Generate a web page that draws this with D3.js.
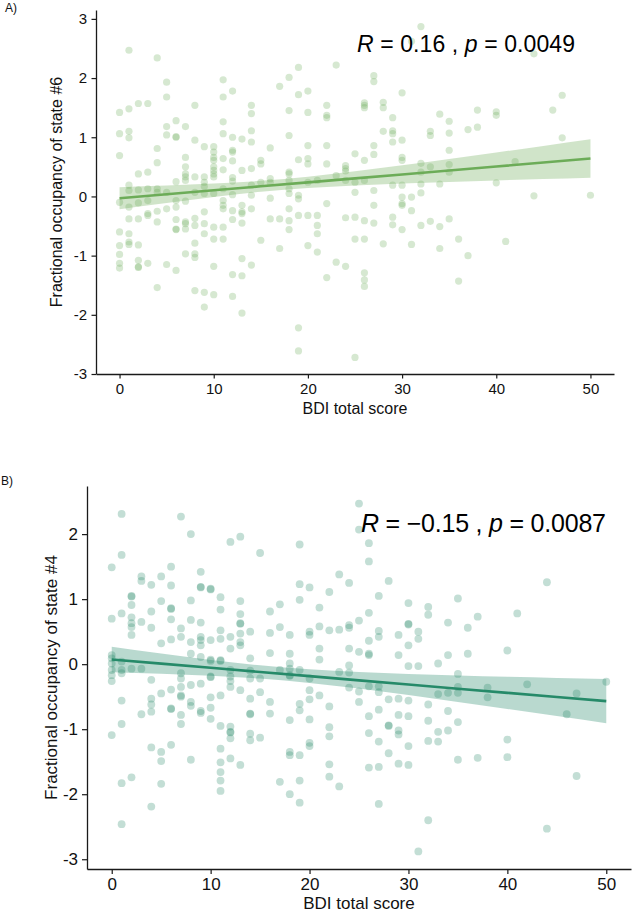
<!DOCTYPE html>
<html><head><meta charset="utf-8">
<script src="https://cdn.jsdelivr.net/npm/d3@7"></script>
<style>
html,body{margin:0;padding:0;background:#fff;}
svg{display:block;font-family:"Liberation Sans",Arial,Helvetica,sans-serif;}
</style></head>
<body>
<script>
// ---------- Panel A data (BDI score -> values at that score) ----------
const topCategories = [0,1,2,3,4,5,6,7,8,9,10,11,12,13,14,15,16,17,18,19,20,21,22,23,24,25,26,27,28,29,30,31,32,33,34,35,36,37,38,40,41,42,44,46,47,50];
const topValues = [
 [1.42,1.06,0.69,-0.10,-0.60,-0.83,-0.98,-1.13,-1.21],
 [2.47,1.48,1.10,0.99,0.19,0.10,-0.18,-0.38,-0.63,-0.77,-0.81],
 [1.57,0.38,0.11,-0.11,-0.38,-0.82,-1.08,-1.19,-1.20],
 [1.57,0.41,0.13,-0.07,-0.29,-0.32,-1.13],
 [2.34,0.81,0.57,0.13,0.07,-0.25,-0.43,-1.54],
 [1.93,1.68,1.18,1.04,0.07,-0.21,-1.15],
 [1.28,1.01,1.00,0.25,-0.07,-0.18,-0.39,-0.55,-0.56,-1.25],
 [1.18,0.66,0.50,0.38,0.33,0.27,-0.08,-0.43,-0.46,-0.55,-0.97],
 [1.54,0.95,0.33,0.07,-0.37,-0.49,-0.79,-0.97,-1.03,-1.59],
 [0.84,0.33,0.24,0.17,0.05,-0.26,-0.46,-0.63,-1.62,-1.87],
 [0.84,0.75,0.66,0.61,0.50,0.44,0.38,0.33,0.05,-0.52,-0.72,-1.18,-1.66],
 [1.97,1.68,1.26,1.06,0.64,0.45,0.13,-0.07,-0.15,-0.21,-0.52,-0.72],
 [1.78,1.00,0.78,0.75,0.60,0.32,0.26,0.03,-0.24,-0.39,-1.32,-1.69],
 [0.97,0.44,-0.15,-0.26,-0.29,-0.45,-1.05,-1.34,-1.97],
 [1.54,1.40,1.11,0.92,0.47,0.19,0.02,-0.21,-1.16],
 [0.61,0.55,0.24,-0.74],
 [0.82,0.30,0.24,-0.03,-0.38],
 [1.86,-0.38,-0.88],
 [2.01,1.45,1.03,0.41,0.38,0.27,0.13,0.05,-0.21,-0.41,-0.56],
 [2.18,1.72,0.62,0.02,-0.04,-0.32,-2.22,-2.61],
 [1.78,1.42,0.86,0.64,0.55,0.24,-0.32,-0.83],
 [0.27,-0.32,-0.49,-0.63,-0.94],
 [1.54,1.37,1.33,0.86,0.55,-0.12,-1.37],
 [2.22,0.35,-1.11],
 [0.52,0.47,0.43,0.27,-0.36,-1.18],
 [0.72,0.24,0.07,-0.35,-0.72,-2.72],
 [1.58,1.54,1.50,0.61,0.27,-0.41,-0.72,-1.29,-1.41,-1.52],
 [2.04,1.94,0.86,0.71,0.10,-0.15,-0.45],
 [1.59,1.50,1.10,-0.80],
 [1.33,1.11,1.06,0.92,0.19,-0.35,-0.48],
 [1.75,0.95,0.66,0.61,0.19,-0.01,-0.12,-0.15,-0.56],
 [2.62,-0.01,-0.24,-0.81],
 [2.87,0.56,0.41,0.21,0.06,-0.49],
 [1.10,1.03,0.50,-0.42],
 [1.39,0.21,-0.51,-0.88],
 [1.27,1.07,0.78,0.54,0.41,-0.38],
 [-0.72,-1.43],
 [1.13,-1.00],
 [1.46,1.17],
 [1.43,1.37,0.23],
 [-0.76],
 [0.59],
 [2.41,0.01],
 [1.46],
 [1.71,0.99],
 [0.02]
];
const fitX = [0,5,10,15,20,25,30,35,40,45,50];
const topFit = [-0.03,0.037,0.104,0.171,0.238,0.305,0.372,0.439,0.506,0.573,0.64];
const topHi  = [0.155,0.183,0.217,0.264,0.334,0.424,0.525,0.632,0.742,0.853,0.965];
const topLo  = [-0.215,-0.109,-0.009,0.078,0.142,0.186,0.219,0.246,0.270,0.293,0.315];

// ---------- Panel B data ----------
const botCategories = [0,1,2,3,4,5,6,7,8,9,10,11,12,13,14,15,16,17,18,19,20,21,22,23,24,25,26,27,28,29,30,31,32,33,34,35,36,37,38,40,41,42,44,46,47,50];
const botValues = [
 [1.49,0.70,0.14,0.09,0.01,-0.09,-0.17,-0.26,-1.09],
 [2.31,1.68,0.78,0.04,-0.09,-0.14,-0.56,-0.92,-1.83,-2.46],
 [1.05,1.04,0.91,0.72,0.63,0.57,0.45,-0.07,-1.74],
 [1.35,1.28,0.65,-0.07,-0.77],
 [1.22,0.81,0.56,-0.24,-0.53,-0.62,-0.73,-1.28,-2.19],
 [1.35,0.97,0.32,-0.45,-1.35,-1.49,-1.84],
 [1.50,1.21,0.86,0.85,0.69,0.38,-0.39,-0.68,-0.69,-1.24],
 [2.27,0.55,0.42,-0.14,-0.22,-0.35,-0.48,-0.50,-0.78,-0.92],
 [2.00,0.98,0.68,0.34,0.16,-0.32,-0.58,-0.64,-1.47],
 [1.42,1.19,1.18,0.64,0.42,0.37,0.29,0.11,-0.30,-0.72,-0.75],
 [1.16,1.15,0.37,0.07,0.05,-0.19,-0.20,-0.51,-0.67,-0.84],
 [1.03,0.84,0.52,0.39,0.06,0.05,-0.48,-0.95,-1.30,-1.51,-1.66,-1.79,-1.95],
 [1.88,0.42,0.24,-0.09,-0.19,-0.26,-0.35,-0.96,-1.04,-1.05,-1.14,-1.45],
 [1.96,0.97,0.77,0.63,0.62,0.47,0.34,0.29,-0.40,-1.55],
 [0.50,0.09,-0.10,-0.22,-0.53,-0.76,-0.77,-1.07,-1.17],
 [1.71,-0.22,-0.43,-1.13],
 [0.81,0.48,0.17,-0.58,-0.76],
 [0.92,0.57,-0.09,-1.81],
 [0.45,0.16,0.01,-0.07,-0.17,-0.18,-0.86,-1.35,-1.40,-2.00],
 [1.84,1.23,0.99,-0.09,-0.61,-0.71,-1.40,-1.79,-2.13],
 [1.18,0.50,0.45,-0.22,-0.40,-0.54,-0.85,-1.21,-1.26],
 [0.87,0.58,0.24,0.07,-0.48],
 [1.11,0.52,-0.65,-0.97,-1.11,-1.54,-1.73],
 [1.38,0.53,-0.12,-1.88],
 [1.25,0.60,0.56,0.24,-0.02,-0.13,-0.36],
 [2.47,2.07,0.67,0.19,-0.42,-0.58],
 [1.86,1.58,0.79,0.36,0.16,0.14,-0.34,-0.80,-1.06,-1.59],
 [1.05,0.51,0.42,-0.34,-0.43,-0.70,-1.19,-1.58,-2.15],
 [1.28,-0.54,-0.94,-0.95,-1.37],
 [0.45,0.14,-0.53,-0.78,-1.02,-1.08,-1.53],
 [0.94,0.62,0.61,0.29,-0.03,-0.56,-0.80,-1.26,-1.55],
 [0.50,0.39,-0.03,-2.88],
 [0.88,0.76,-0.62,-0.87,-1.18,-2.40],
 [0.01,-0.46,-1.04,-1.19],
 [0.64,0.14,-0.44,-0.72,-1.02],
 [1.01,-0.15,-0.35,-0.44,-0.89,-1.47],
 [0.56,0.16],
 [0.73,-1.44],
 [-0.36,-0.51],
 [0.21,-1.16,-1.43],
 [0.78],
 [-0.31],
 [1.26,-2.53],
 [-0.77],
 [-0.45,-1.72],
 [-0.27]
];
const botFit = [0.072,0.008,-0.056,-0.120,-0.184,-0.249,-0.313,-0.377,-0.441,-0.505,-0.569];
const botHi  = [0.267,0.163,0.065,-0.018,-0.080,-0.122,-0.151,-0.173,-0.193,-0.212,-0.229];
const botLo  = [-0.123,-0.147,-0.177,-0.222,-0.288,-0.376,-0.475,-0.581,-0.689,-0.798,-0.909];

const xTicks = [0,10,20,30,40,50];
const topYTicks = [-3,-2,-1,0,1,2,3];
const botYTicks = [-3,-2,-1,0,1,2];

const svg = d3.select("body").append("svg").attr("width",633).attr("height",912);

function panel(o){
  const g = svg.append("g");
  const x = d3.scaleLinear().domain([-2.5,52.5]).range([o.left,o.right]);
  const y = d3.scaleLinear().domain(o.ydom).range([o.bottom,o.top]);
  const pts = [];
  o.cats.forEach((c,i)=>o.vals[i].forEach(v=>pts.push([c,v])));
  // points
  g.append("g").selectAll("circle").data(pts).join("circle")
    .attr("cx",d=>x(d[0])).attr("cy",d=>y(d[1])).attr("r",o.r)
    .attr("fill",o.color).attr("fill-opacity",0.28);
  // band
  const band = fitX.map((v,i)=>({x:v,lo:o.lo[i],hi:o.hi[i],f:o.fit[i]}));
  g.append("path").datum(band)
    .attr("d",d3.area().x(d=>x(d.x)).y0(d=>y(d.lo)).y1(d=>y(d.hi)).curve(d3.curveMonotoneX))
    .attr("fill",o.color).attr("fill-opacity",0.32);
  g.append("path").datum(band)
    .attr("d",d3.line().x(d=>x(d.x)).y(d=>y(d.f)))
    .attr("fill","none").attr("stroke",o.color).attr("stroke-width",2.6);
  // axes
  const ax = g.append("g").attr("transform",`translate(0,${o.bottom})`)
    .call(d3.axisBottom(x).tickValues(xTicks).tickSize(o.tick).tickSizeOuter(0).tickPadding(o.xpad).tickFormat(d=>String(d)));
  const ay = g.append("g").attr("transform",`translate(${o.left},0)`)
    .call(d3.axisLeft(y).tickValues(o.yticks).tickSize(o.tick).tickSizeOuter(0).tickPadding(o.ypad).tickFormat(d=>String(d)));
  [ax,ay].forEach(a=>{
    a.select(".domain").attr("stroke","#1a1a1a").attr("stroke-width",1.3);
    a.selectAll(".tick line").attr("stroke","#1a1a1a").attr("stroke-width",1.2);
    a.selectAll("text").attr("fill","#111").style("font-size",o.fs+"px").style("font-family","'Liberation Sans',Arial,sans-serif");
  });
  // titles
  g.append("text").attr("x",(o.left+o.right)/2).attr("y",o.xtitleY).attr("text-anchor","middle")
    .style("font-size",o.tfs+"px").attr("fill","#111").text("BDI total score");
  g.append("text").attr("transform",`translate(${o.ytitleX},${(o.top+o.bottom)/2}) rotate(-90)`)
    .attr("text-anchor","middle").style("font-size",o.tfs+"px").attr("fill","#111").text(o.ytitle);
  // panel letter
  g.append("text").attr("x",o.lx).attr("y",o.ly).style("font-size","12px").attr("fill","#111").text(o.letter);
  // stats label
  const t = g.append("text").attr("x",o.sx).attr("y",o.sy).style("font-size",o.sfs+"px").attr("fill","#000")
    .attr("textLength",o.sw).attr("lengthAdjust","spacing");
  t.append("tspan").style("font-style","italic").text("R");
  t.append("tspan").text(" = "+o.r2+" , ");
  t.append("tspan").style("font-style","italic").text("p");
  t.append("tspan").text(" = "+o.p);
}

panel({cats:topCategories, vals:topValues, fit:topFit, hi:topHi, lo:topLo,
  left:96, right:614, top:10, bottom:374, ydom:[-3.0,3.15], yticks:topYTicks,
  color:"#6cac58", r:3.6, tick:4.5, xpad:5, ypad:4.5, fs:15, tfs:16,
  xtitleY:413.5, ytitleX:62, ytitle:"Fractional occupancy of state #6",
  letter:"A)", lx:5, ly:12, sx:357, sy:51.5, sfs:23, sw:218, r2:"0.16", p:"0.0049"});

panel({cats:botCategories, vals:botValues, fit:botFit, hi:botHi, lo:botLo,
  left:87, right:631, top:486, bottom:869, ydom:[-3.15,2.74], yticks:botYTicks,
  color:"#268a69", r:3.9, tick:5, xpad:4, ypad:4, fs:17, tfs:17,
  xtitleY:908.5, ytitleX:57, ytitle:"Fractional occupancy of state #4",
  letter:"B)", lx:1, ly:485, sx:361, sy:531.5, sfs:25, sw:245, r2:"\u22120.15", p:"0.0087"});
</script>
</body></html>
